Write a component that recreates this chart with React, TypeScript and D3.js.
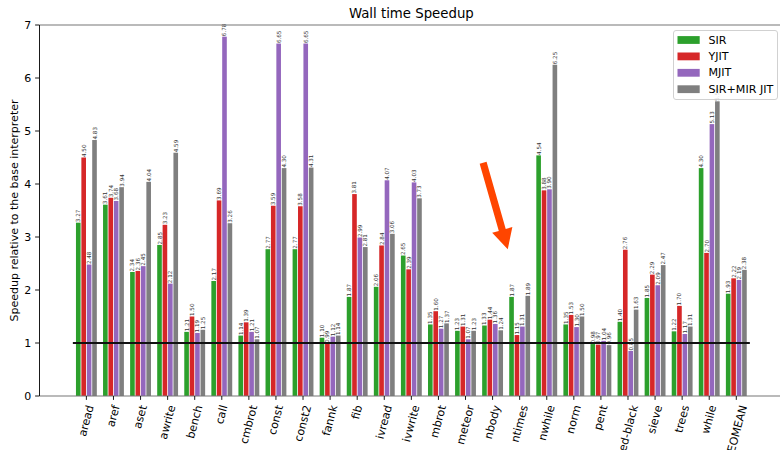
import { useEffect, useRef } from 'react'
import * as d3 from 'd3'

const categories = ['aread', 'aref', 'aset', 'awrite', 'bench', 'call', 'cmbrot', 'const', 'const2', 'fannk', 'fib', 'ivread', 'ivwrite', 'mbrot', 'meteor', 'nbody', 'ntimes', 'nwhile', 'norm', 'pent', 'red-black', 'sieve', 'trees', 'while', 'GEOMEAN']
const sir = [3.27, 3.61, 2.34, 2.85, 1.21, 2.17, 1.14, 2.77, 2.77, 1.10, 1.87, 2.06, 2.65, 1.35, 1.23, 1.33, 1.87, 4.54, 1.35, 0.98, 1.40, 1.85, 1.22, 4.30, 1.93]
const yjit = [4.50, 3.74, 2.36, 3.23, 1.50, 3.69, 1.39, 3.59, 3.58, 0.99, 3.81, 2.84, 2.39, 1.60, 1.31, 1.44, 1.15, 3.88, 1.53, 0.97, 2.76, 2.29, 1.70, 2.70, 2.22]
const mjit = [2.48, 3.68, 2.45, 2.12, 1.19, 6.78, 1.21, 6.65, 6.65, 1.12, 2.99, 4.07, 4.03, 1.27, 1.07, 1.36, 1.31, 3.90, 1.30, 1.04, 0.85, 2.09, 1.17, 5.13, 2.19]
const sirMir = [4.83, 3.94, 4.04, 4.59, 1.25, 3.26, 1.07, 4.30, 4.31, 1.14, 2.81, 3.06, 3.73, 1.37, 1.23, 1.24, 1.89, 6.25, 1.50, 0.96, 1.63, 2.47, 1.31, 5.56, 2.38]
const seriesNames = ['SIR', 'YJIT', 'MJIT', 'SIR+MIR JIT']
const seriesColors = ['#2ca02c', '#d62728', '#9467bd', '#7f7f7f']
const yTicks = [0, 1, 2, 3, 4, 5, 6, 7]
const baseline = 1
// annotation arrow, data coords (tail -> tip)
const arrowTail = [14.65, 4.40]
const arrowTip = [15.56, 2.77]

const FONT = 'DejaVu Sans, sans-serif'

export default function App() {
  const svgRef = useRef<SVGSVGElement>(null)

  useEffect(() => {
    if (!svgRef.current) return
    const width = 780
    const height = 450
    const m = { top: 25, left: 39, bottom: 396, right: 783.7 }

    const svg = d3.select(svgRef.current)
    svg.selectAll('*').remove()
    svg.attr('width', width).attr('height', height)

    const x = d3.scaleLinear().domain([-1.75, categories.length + 0.75]).range([m.left, m.right])
    const y = d3.scaleLinear().domain([0, 7]).range([m.bottom, m.top])
    const unit = x(1) - x(0)
    const series = [sir, yjit, mjit, sirMir]
    const bw = 0.2

    // bars
    series.forEach((vals, si) => {
      const off = -0.3 + si * 0.2
      svg.append('g').selectAll('rect').data(vals).enter().append('rect')
        .attr('x', (_, i) => x(i + off - bw / 2) + 0.4)
        .attr('width', bw * unit - 0.8)
        .attr('y', d => y(d))
        .attr('height', d => y(0) - y(d))
        .attr('fill', seriesColors[si])
    })

    // value labels
    series.forEach((vals, si) => {
      const off = -0.3 + si * 0.2
      svg.append('g').selectAll('text').data(vals).enter().append('text')
        .attr('transform', (d, i) => `translate(${x(i + off)},${y(d) - 0.5}) rotate(-90)`)
        .attr('text-anchor', 'start').attr('dominant-baseline', 'central')
        .attr('font-family', FONT).attr('font-size', '5.6px').attr('fill', '#333')
        .text(d => d.toFixed(2))
    })

    // baseline at 1
    svg.append('line').attr('x1', x(-0.5)).attr('x2', x(categories.length - 0.5))
      .attr('y1', y(baseline)).attr('y2', y(baseline)).attr('stroke', '#111').attr('stroke-width', 2)

    // spines
    svg.append('line').attr('x1', m.left).attr('x2', m.right).attr('y1', m.top).attr('y2', m.top).attr('stroke', '#777').attr('stroke-width', 1.2)
    svg.append('line').attr('x1', m.left).attr('x2', m.right).attr('y1', m.bottom).attr('y2', m.bottom).attr('stroke', '#777').attr('stroke-width', 1.2)
    svg.append('line').attr('x1', m.left + 0.5).attr('x2', m.left + 0.5).attr('y1', m.top).attr('y2', m.bottom).attr('stroke', '#000').attr('stroke-width', 0.9)

    // y ticks
    yTicks.forEach(t => {
      svg.append('line').attr('x1', m.left - 3.9).attr('x2', m.left).attr('y1', y(t)).attr('y2', y(t)).attr('stroke', '#000').attr('stroke-width', 0.9)
      svg.append('text').attr('x', m.left - 7.8).attr('y', y(t)).attr('text-anchor', 'end').attr('dominant-baseline', 'central')
        .attr('font-family', FONT).attr('font-size', '11px').attr('fill', '#000').text(t)
    })

    // x ticks + rotated labels
    const ang = 75 * Math.PI / 180
    const fs = 11.1
    categories.forEach((c, i) => {
      const cx = x(i)
      svg.append('line').attr('x1', cx).attr('x2', cx).attr('y1', m.bottom).attr('y2', m.bottom + 3.9).attr('stroke', '#000').attr('stroke-width', 0.9)
      const t = svg.append('text').attr('text-anchor', 'middle').attr('dominant-baseline', 'central')
        .attr('font-family', FONT).attr('font-size', `${fs}px`).attr('fill', '#000').text(c)
      const L = (t.node() as SVGTextElement).getComputedTextLength()
      const h = fs * 1.16
      const bh = L * Math.sin(ang) + h * Math.cos(ang)
      t.attr('transform', `translate(${cx},${m.bottom + 7.8 + bh / 2}) rotate(-75)`)
    })

    // axis label + title
    svg.append('text').attr('transform', `translate(14,${(m.top + m.bottom) / 2}) rotate(-90)`)
      .attr('text-anchor', 'middle').attr('dominant-baseline', 'central')
      .attr('font-family', FONT).attr('font-size', '11px').attr('fill', '#000')
      .text('Speedup relative to the base interpreter')
    svg.append('text').attr('x', (m.left + m.right) / 2).attr('y', 18.3).attr('text-anchor', 'middle')
      .attr('font-family', FONT).attr('font-size', '13.3px').attr('fill', '#000').text('Wall time Speedup')

    // arrow annotation
    const p0 = [x(arrowTail[0]), y(arrowTail[1])]
    const p1 = [x(arrowTip[0]), y(arrowTip[1])]
    const dx = p1[0] - p0[0], dy = p1[1] - p0[1]
    const len = Math.hypot(dx, dy)
    const ux = dx / len, uy = dy / len
    const nx = -uy, ny = ux
    const sw = 3.6, hw = 10.5, hl = 20
    const bx = p1[0] - ux * hl, by = p1[1] - uy * hl
    const pts = [
      [p0[0] + nx * sw, p0[1] + ny * sw],
      [bx + nx * sw, by + ny * sw],
      [bx + nx * hw, by + ny * hw],
      [p1[0], p1[1]],
      [bx - nx * hw, by - ny * hw],
      [bx - nx * sw, by - ny * sw],
      [p0[0] - nx * sw, p0[1] - ny * sw],
    ]
    svg.append('polygon').attr('points', pts.map(p => p.join(',')).join(' ')).attr('fill', '#ff4500')

    // legend
    const lg = svg.append('g').attr('transform', 'translate(673,30)')
    lg.append('rect').attr('x', 0.5).attr('y', 0.5).attr('width', 104).attr('height', 69).attr('rx', 2.5)
      .attr('fill', '#fff').attr('fill-opacity', 0.8).attr('stroke', '#ccc').attr('stroke-width', 0.9)
    seriesNames.forEach((n, i) => {
      const cy = 10 + i * 16.4
      lg.append('rect').attr('x', 4.5).attr('y', cy - 3.9).attr('width', 22.2).attr('height', 7.8).attr('fill', seriesColors[i])
      lg.append('text').attr('x', 35.5).attr('y', cy).attr('dominant-baseline', 'central')
        .attr('font-family', FONT).attr('font-size', '11.1px').attr('fill', '#000').text(n)
    })
  }, [])

  return <svg ref={svgRef} style={{ position: 'absolute', left: 0, top: 0, background: '#fff' }} />
}
